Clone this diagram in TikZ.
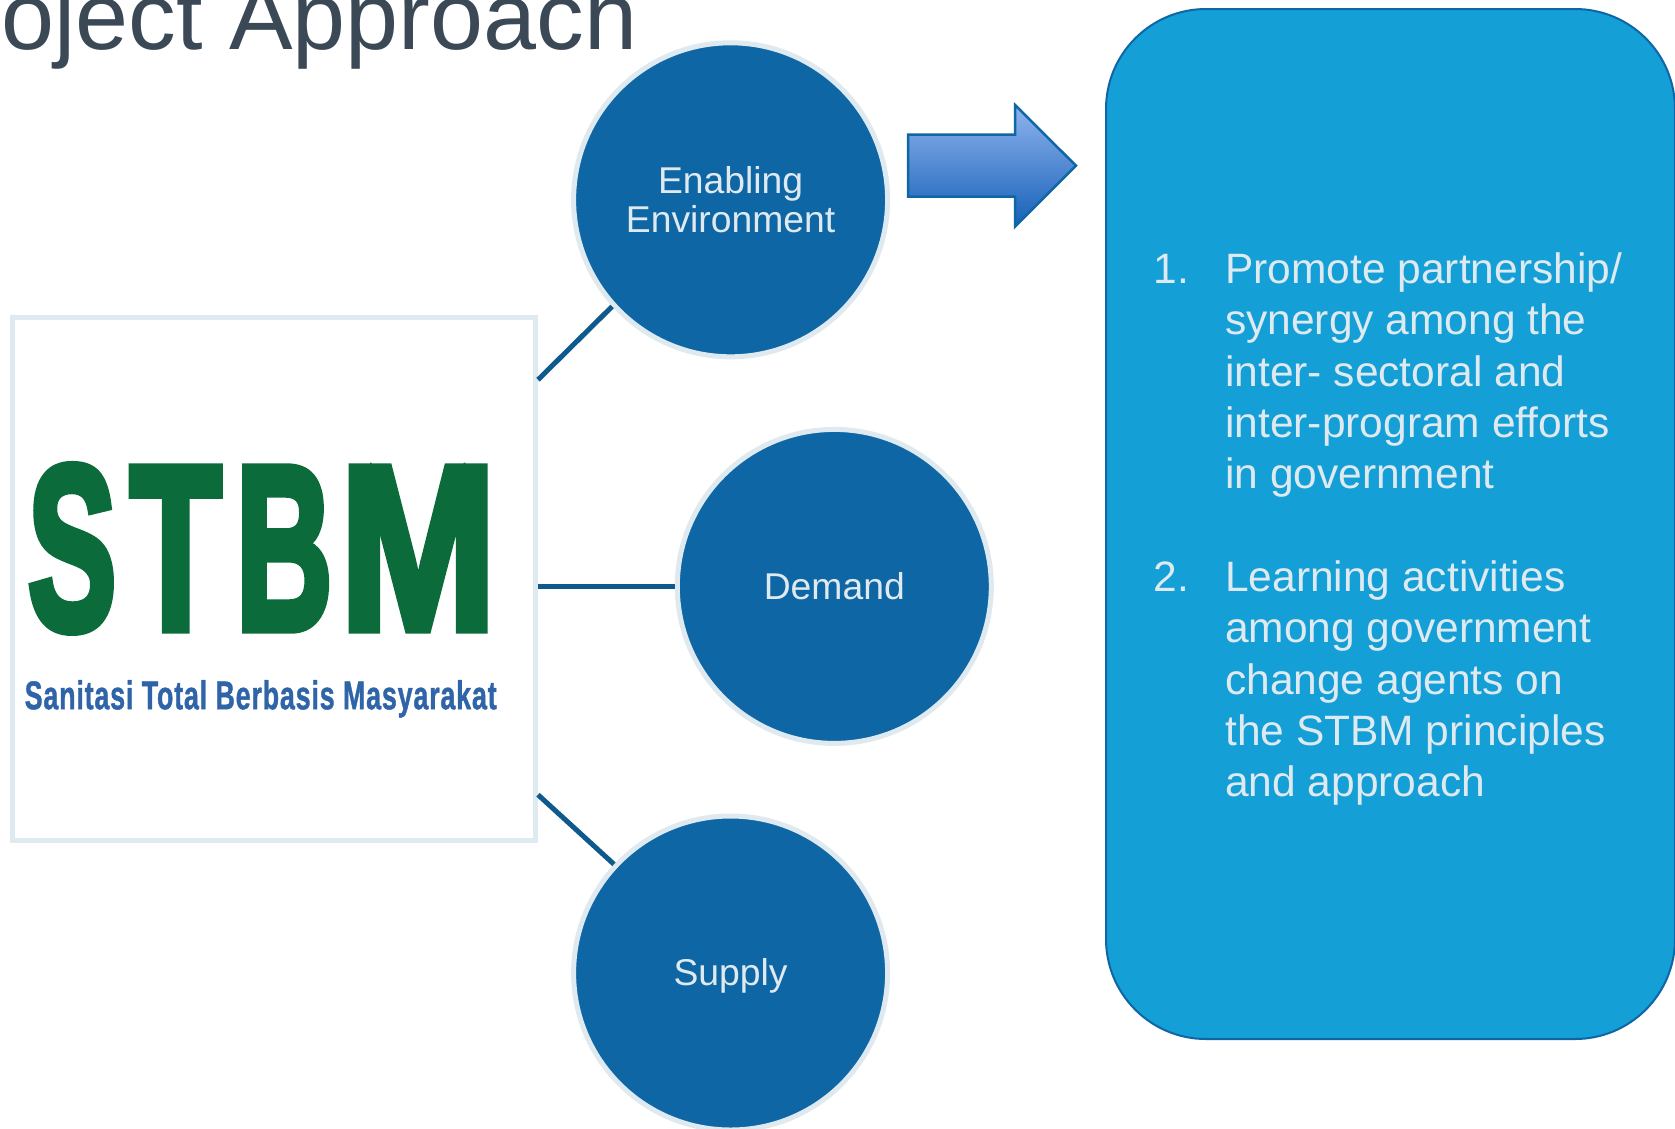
\documentclass[tikz,border=0pt]{standalone}
\usepackage{fontspec}
\usepackage{graphicx}
\setmainfont{Liberation Sans}
\newfontfamily\fakebold[FakeBold=4]{Liberation Sans Bold}
\newfontfamily\sloganfont[FakeBold=1.2,LetterSpace=3]{Liberation Sans Bold}
\usetikzlibrary{calc}
\definecolor{titlecol}{HTML}{3B4856}
\definecolor{circfill}{HTML}{0F66A5}
\definecolor{palecol}{HTML}{DEE9F0}
\definecolor{boxblue}{HTML}{149FD7}
\definecolor{linkcol}{HTML}{0F5A8C}
\definecolor{logogreen}{HTML}{0B6B3A}
\definecolor{logoblue}{HTML}{2F65A8}
\definecolor{arrtop}{HTML}{8FB4EE}
\definecolor{arrbot}{HTML}{1560B8}
\newcommand{\logoletter}[3]{\makebox[#1pt][l]{\scalebox{#2}[2.34]{\fontsize{100}{100}\fakebold #3}}}
\tikzset{
  bubble/.style={circle,fill=circfill,draw=palecol,line width=5pt,minimum size=314pt,inner sep=0pt,text=palecol,align=center,font=\fontsize{37.3}{39.5}\selectfont},
  linkline/.style={draw=linkcol,line width=5pt},
  listtext/.style={text=palecol,anchor=base west,inner sep=0pt,align=left,font=\fontsize{42.5}{51.3}\selectfont},
}
\begin{document}
\begin{tikzpicture}[x=1pt,y=-1pt]
\useasboundingbox (0,0) rectangle (1675,1128);
\clip (0,0) rectangle (1675,1128);
\fill[white] (0,0) rectangle (1675,1128);
\node[anchor=base east,inner sep=0pt,text=titlecol,font=\fontsize{95.3}{95.3}\selectfont] (title) at (637.5,49) {Project Approach};
% logo box
\node[draw=palecol,fill=white,line width=5.5pt,minimum width=523pt,minimum height=523pt,inner sep=0pt,anchor=north west] (logo) at (9.5,314.5) {};
\begin{scope}
\clip (15,450) -- (340,450) -- (340,462.5) -- (520,462.5) -- (520,650) -- (15,650) -- cycle;
\node[inner sep=0pt,anchor=base west,text=logogreen] (stbm) at (27.6,629) {\logoletter{102.1}{1.33}{S}\logoletter{105.9}{1.50}{T}\logoletter{103.9}{1.34}{B}\logoletter{160}{1.88}{M}};
\end{scope}
\node[inner sep=0pt,anchor=north west,text=logoblue] (slogan) at (24.5,680) {\resizebox{472pt}{29pt}{\fontsize{20}{20}\sloganfont Sanitasi Total Berbasis Masyarakat}};
% circles
\node[bubble] (ee) at (730.6,199.8) {Enabling\\Environment};
\node[bubble] (dem) at (834.3,586.4) {Demand};
\node[bubble,text depth=2pt] (sup) at (730.6,973) {Supply};
% connectors
\coordinate (logotop) at ($(logo.east)+(0,-199)$);
\coordinate (logobot) at ($(logo.east)+(0,216)$);
\draw[linkline] (logotop) -- (ee.222.8);
\draw[linkline] (dem.west) -- (dem.west -| logo.east);
\draw[linkline] (logobot) -- (sup.137.2);
% arrow
\path[draw=circfill,line width=2.5pt,top color=arrtop,bottom color=arrbot]
  (908,134.5) -- (1015,134.5) -- (1015,105) -- (1076,165.7) -- (1015,226.5) -- (1015,196.5) -- (908,196.5) -- cycle;
% right box
\node[fill=boxblue,draw=circfill,line width=2pt,rounded corners=100pt,minimum width=569pt,minimum height=1030pt,inner sep=0pt,anchor=north west] (panel) at (1105,8) {};
\node[listtext] (n1) at (1153.5,283.6) {1.};
\node[listtext] (t1) at (1225,488.8) {Promote partnership/\\synergy among the\\inter- sectoral and\\inter-program efforts\\in government};
\node[listtext] (n2) at (1153.5,591.6) {2.};
\node[listtext] (t2) at (1225,796.8) {Learning activities\\among government\\change agents on\\the STBM principles\\and approach};
\end{tikzpicture}
\end{document}
